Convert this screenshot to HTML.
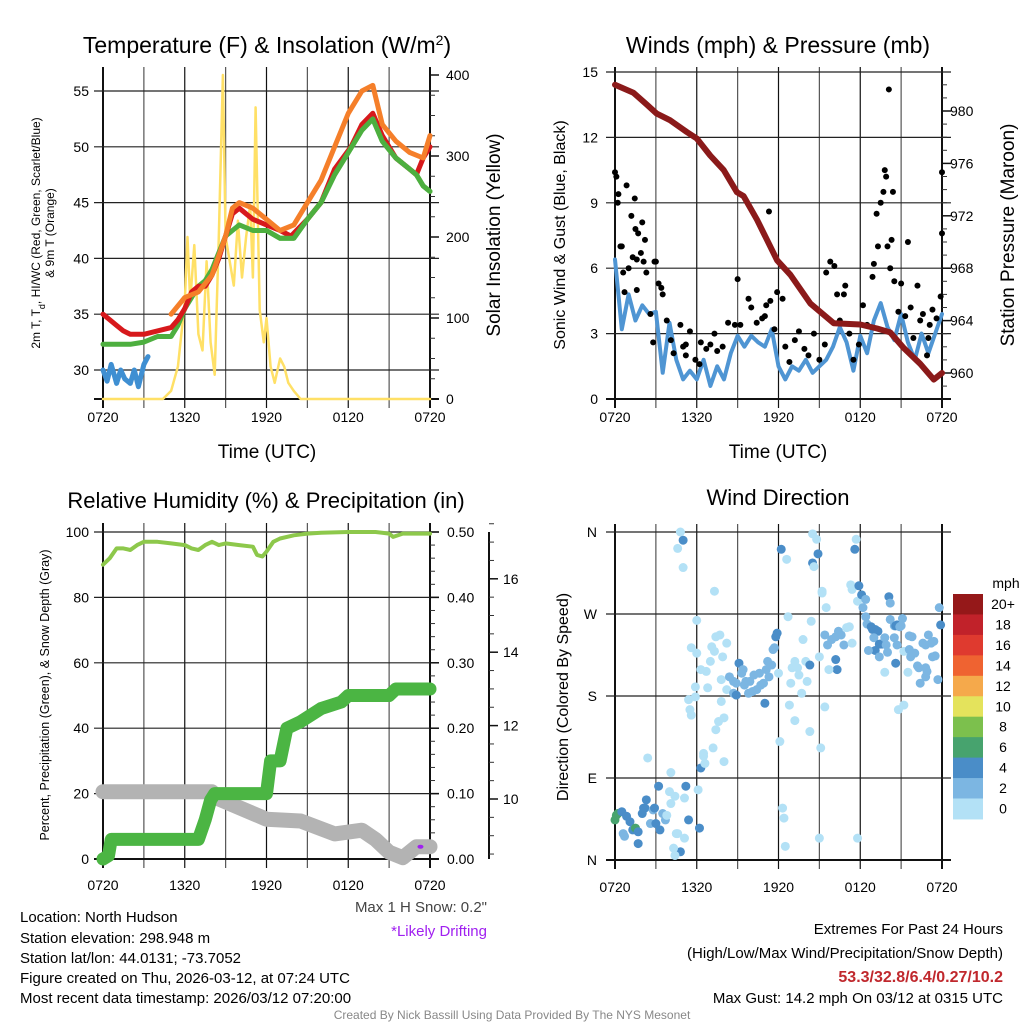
<!DOCTYPE html>
<html><head><meta charset="utf-8">
<style>
html,body{margin:0;padding:0;background:#fff;}
svg{display:block;font-family:"Liberation Sans",Arial,sans-serif;}
</style></head>
<body>
<svg id="chart" width="1024" height="1024" viewBox="0 0 1024 1024" xmlns="http://www.w3.org/2000/svg">
<rect x="0" y="0" width="1024" height="1024" fill="#fff"/>
<text x="267" y="53" font-size="23" text-anchor="middle">Temperature (F) &amp; Insolation (W/m<tspan baseline-shift="super" font-size="14">2</tspan>)</text>
<text x="778" y="53" font-size="23" text-anchor="middle">Winds (mph) &amp; Pressure (mb)</text>
<text x="266" y="508" font-size="22" text-anchor="middle">Relative Humidity (%) &amp; Precipitation (in)</text>
<text x="778" y="505" font-size="22" text-anchor="middle">Wind Direction</text>
<text x="267" y="458" font-size="19" text-anchor="middle">Time (UTC)</text>
<text x="778" y="458" font-size="19" text-anchor="middle">Time (UTC)</text>
<text transform="translate(40,233) rotate(-90)" font-size="12" text-anchor="middle"><tspan x="0" dy="0">2m T, T<tspan baseline-shift="sub" font-size="9">d</tspan>, HI/WC (Red, Green, Scarlet/Blue)</tspan><tspan x="0" dy="14">&amp; 9m T (Orange)</tspan></text>
<text transform="translate(500,235) rotate(-90)" font-size="19" text-anchor="middle">Solar Insolation (Yellow)</text>
<text transform="translate(565,235) rotate(-90)" font-size="16" text-anchor="middle">Sonic Wind &amp; Gust (Blue, Black)</text>
<text transform="translate(1014,235) rotate(-90)" font-size="19" text-anchor="middle">Station Pressure (Maroon)</text>
<text transform="translate(49,695) rotate(-90)" font-size="12.5" text-anchor="middle">Percent, Precipitation (Green), &amp; Snow Depth (Gray)</text>
<text transform="translate(568,697) rotate(-90)" font-size="16" text-anchor="middle">Direction (Colored By Speed)</text>
<text x="487" y="912" font-size="15" text-anchor="end" fill="#444">Max 1 H Snow: 0.2"</text>
<text x="487" y="936" font-size="15" text-anchor="end" fill="#a020f0">*Likely Drifting</text>
<g font-size="15">
<text x="20" y="922">Location: North Hudson</text>
<text x="20" y="943">Station elevation: 298.948 m</text>
<text x="20" y="963">Station lat/lon: 44.0131; -73.7052</text>
<text x="20" y="983">Figure created on Thu, 2026-03-12, at 07:24 UTC</text>
<text x="20" y="1003">Most recent data timestamp: 2026/03/12 07:20:00</text>
</g>
<g font-size="15" text-anchor="end">
<text x="1003" y="934">Extremes For Past 24 Hours</text>
<text x="1003" y="958">(High/Low/Max Wind/Precipitation/Snow Depth)</text>
<text x="1003" y="982" font-weight="bold" fill="#c0282d" font-size="16">53.3/32.8/6.4/0.27/10.2</text>
<text x="1003" y="1003">Max Gust: 14.2 mph On 03/12 at 0315 UTC</text>
</g>
<text x="512" y="1019" font-size="12" text-anchor="middle" fill="#888">Created By Nick Bassill Using Data Provided By The NYS Mesonet</text>
</svg>
<script>
// ---------- data ----------
const timeTickLabels = ["0720","1320","1920","0120","0720"];
const redHours = [0,0.5,1,1.5,2,3,4,5,5.5,6,6.5,7,7.5,8,8.5,9,9.5,10,10.5,11,12,13,13.8,15,16,17,18.2,19,19.8,20.5,21.5,22.5,23,23.5,24];
const redTemps = [35,34.5,34,33.5,33.2,33.2,33.5,33.8,34.5,35.5,37,37.5,37.5,38.5,40,42,44,44.5,44,43.5,43,42.5,42,43.5,45,48,50,52,53,51,49,48,47.5,49,50];
const greenHours = [0,2,3,4,5,5.5,6,6.5,7,7.5,8,8.5,9,9.5,10,11,12,13,14,15,16,17,18,19,19.8,20.5,21.5,22.5,23,23.5,24];
const greenTemps = [32.3,32.3,32.5,33,33,34,35.5,36.5,37.5,38,39,40.5,42,42.5,43,42.5,42.5,41.8,41.8,43.5,45,47.5,49.5,51.5,52.5,50.5,49,48,47.5,46.5,46];
const orangeHours = [5,6,7,8,9,9.5,10,11,12,13,14,15,16,17,18,19,19.8,20.5,21.5,22.5,23.5,24];
const orangeTemps = [35,36.5,37,38.5,42,44.5,45,44.5,43.5,42.5,43,45,47,50,53,55,55.5,52,50.5,49.5,49,51];
const blueHours = [0,0.3,0.6,1,1.3,1.6,2,2.3,2.6,3,3.3];
const blueTemps = [30,29,30.5,28.8,30,29.2,28.8,30,28.5,30.5,31.2];
const solarHours = [0,4.4,5,5.5,6,6.2,6.4,6.7,7,7.3,7.6,7.9,8.2,8.5,8.8,9,9.3,9.6,9.9,10.2,10.5,10.8,11,11.2,11.5,11.8,12,12.3,12.6,13,13.3,13.6,14,14.5,24];
const solarValues = [0,0,10,40,120,200,120,190,80,60,170,70,30,200,400,200,170,140,220,150,200,240,150,360,110,70,100,40,20,50,40,20,10,0,0];

const windStep = 0.5;
const windValues = [6.4,3.2,4.8,3.6,4.3,3.9,4.0,1.2,3.5,1.8,0.9,1.3,0.9,1.8,0.6,1.5,0.9,2.1,2.9,2.4,2.9,2.6,2.4,3.2,1.5,0.9,1.5,1.3,1.8,1.2,1.5,1.8,2.4,3.3,2.6,1.3,2.9,2.1,3.6,4.4,3.3,2.7,3.9,2.6,1.8,3.0,2.1,3.0,3.9];
const pressureHours = [0,1.35,2.33,3.06,4.04,5.27,6.0,6.99,7.97,8.95,9.44,10.42,11.9,12.87,14.34,16.05,18.0,19.24,20.2,21.2,22.4,23.4,24];
const pressureValues = [982.0,981.4,980.5,979.8,979.3,978.4,977.9,976.6,975.5,973.8,973.5,971.7,968.6,967.5,965.3,963.8,963.7,963.4,963.1,961.9,960.7,959.5,960.0];
const gustHours = [0,0.1,0.25,0.2,0.85,1.45,1.2,2.0,1.5,1.7,2.2,0.5,0.4,1.3,1.6,2.1,1.9,2.9,3.0,2.3,1.0,0.6,3.2,3.4,3.5,0.7,1.6,2.6,3.8,2.8,4.1,4.3,4.8,5.0,5.2,5.5,5.2,5.9,6.2,6.3,6.7,7.0,7.3,7.5,7.9,8.3,8.8,9.0,9.2,9.8,10.0,10.4,10.8,11.0,11.1,11.4,11.7,11.3,11.9,12.3,12.5,12.8,13.2,13.5,13.9,14.2,14.6,15.0,15.4,15.5,15.8,16.1,16.3,16.5,16.8,16.9,17.2,17.5,17.9,18.2,18.5,18.9,19.0,19.2,19.3,19.5,19.7,19.8,19.9,20.0,20.3,20.4,20.2,20.5,20.8,20.1,21.0,21.3,21.5,21.7,21.9,22.2,22.4,22.6,22.9,23.1,23.3,23.6,23.9,24.0,24.0,23.0];
const gustValues = [10.4,10.2,9.4,9.0,9.8,9.2,8.4,8.1,7.8,7.6,7.3,7.0,7.0,6.5,6.4,6.3,6.7,6.3,6.3,5.8,6.0,5.8,5.3,5.1,4.8,4.9,5.0,3.9,3.6,2.6,2.7,2.1,3.4,2.4,2.5,3.1,2.0,1.8,1.6,2.6,2.3,2.5,3.0,2.2,2.4,3.5,3.4,5.5,3.4,4.6,4.2,3.5,3.7,3.8,4.3,4.5,3.2,8.6,4.9,4.6,2.4,1.7,2.7,3.1,2.3,2.0,3.0,1.8,2.5,5.8,6.3,6.1,4.8,3.6,4.8,5.2,3.0,1.8,2.5,4.3,3.4,5.6,6.2,8.5,7.0,9.0,9.5,10.5,10.2,7.0,7.3,9.5,6.0,5.4,4.0,14.2,5.3,3.8,7.2,4.2,2.8,5.2,3.6,3.9,2.0,3.4,4.1,3.7,4.7,10.4,7.6,2.8];

const rhHours = [0,0.5,1,1.5,2,2.5,3,4,5,6,6.5,7,7.5,8,8.5,9,10,11,11.3,11.7,12,12.5,13,14,15,16,18,20,21,21.3,22,23,24];
const rhValues = [90,92,95,95,94.5,96,97,97,96.5,96,95,94.5,96,97,96,96.5,96,95.5,93,92.5,94,97,98,99,99.5,99.8,100,100,99.5,98.5,99.5,99.5,99.5];
const precipHours = [0,0.4,0.6,7,7.5,7.9,8.2,12,12.3,13,13.5,14.5,16,17.5,18,21,21.5,24];
const precipValues = [0,0.005,0.03,0.03,0.06,0.09,0.10,0.10,0.15,0.15,0.20,0.21,0.23,0.24,0.25,0.25,0.26,0.26];
const snowHours = [0,8,8.5,12,14.5,17,19,20,21,22,23,24];
const snowValues = [10.2,10.2,10.0,9.45,9.4,9.05,9.15,8.9,8.55,8.4,8.7,8.7];
const drift = [23.3, 8.7];

const dirHours = [0,0.1,0.2,0.5,0.85,1.1,0.6,0.7,1.3,1.5,1.7,1.7,2.1,2.2,2.0,2.3,2.6,2.8,2.9,3.0,3.3,3.5,3.7,3.8,3.2,4.0,4.1,4.4,4.5,4.6,4.8,4.3,4.4,5.1,5.2,5.1,5.4,6.1,6.2,2.4,4.1,6.3,6.5,6.6,6.5,7.2,7.4,7.6,8.0,8.0,7.8,5.5,5.6,5.4,5.9,5.9,6.0,5.6,6.3,6.7,6.8,7.0,7.1,7.3,7.4,7.7,7.9,8.2,7.8,8.2,8.4,8.7,8.9,8.7,8.9,9.1,9.3,9.4,9.5,9.6,9.9,9.8,10.1,10.4,10.2,10.6,10.7,10.9,11.0,11.1,11.2,11.3,11.5,11.6,11.7,11.8,11.9,12.0,12.1,12.3,12.4,12.5,12.8,12.9,13.0,13.2,13.2,13.4,13.5,13.7,13.8,14.0,14.1,14.3,14.3,14.4,15.0,15.1,15.0,15.5,15.2,15.4,15.6,15.9,16.2,16.2,16.3,15.7,16.4,16.6,16.8,17.0,17.2,17.4,15.4,4.8,5.0,4.6,5.0,7.3,6.0,12.2,12.6,12.7,14.5,14.8,14.9,14.5,14.6,15.2,17.7,17.6,17.3,17.4,17.8,17.9,18.1,18.4,18.2,18.4,18.5,18.8,18.9,19.1,19.3,19.0,19.4,19.5,19.6,19.8,19.9,20.0,19.1,18.6,19.4,19.8,20.1,20.2,20.2,20.5,20.6,20.7,20.9,21.1,21.0,20.7,20.6,20.5,21.2,21.5,21.6,21.8,21.6,21.7,22.0,22.2,22.3,22.4,22.6,22.8,22.8,22.9,22.8,23.0,23.2,23.4,23.3,23.5,23.7,23.8,23.9,20.8,21.2,17.8];
const dirDegrees = [44,49,51,53,48,42,29,26,33,35,31,18,57,57,51,66,40,55,57,40,33,51,44,49,81,75,62,70,29,29,9,13,5,24,81,68,44,77,35,112,96,101,114,106,117,123,143,152,156,108,174,165,159,176,179,190,227,233,209,207,189,218,234,229,245,247,223,238,198,187,201,196,194,183,181,216,205,209,192,196,196,183,185,187,203,205,192,194,172,209,218,201,214,231,233,245,249,205,130,57,46,15,170,194,211,218,153,211,203,183,242,218,196,214,141,262,223,123,24,277,293,247,236,242,245,220,209,209,251,247,236,255,256,238,168,360,351,342,321,295,263,341,330,267,358,352,336,326,322,295,352,341,302,297,284,301,291,286,277,267,259,256,253,253,251,244,237,237,237,244,236,228,230,230,223,206,289,282,264,257,257,258,256,265,257,236,216,244,229,206,246,245,231,223,227,213,211,194,238,236,211,207,201,247,238,240,223,224,198,277,258,165,170,24];
const dirSpeeds = [7,7,7,5,5,5,3,3,5,7,5,5,5,5,5,5,3,3,5,5,5,3,3,1,5,1,1,1,1,1,5,1,1,1,5,1,5,1,5,1,1,5,1,1,1,1,1,1,1,1,1,1,1,1,1,1,1,1,1,1,1,1,1,1,1,1,1,1,1,1,3,3,3,3,5,5,3,3,3,3,3,3,3,3,3,3,3,3,5,3,3,3,3,3,3,5,5,1,1,1,1,1,1,1,1,1,1,1,1,1,1,1,1,5,1,1,1,1,1,1,1,3,3,3,3,5,5,1,3,3,3,1,1,1,1,1,5,1,1,1,1,5,1,1,1,1,5,5,1,1,1,5,1,1,1,5,5,3,3,3,3,5,5,5,5,3,5,5,5,3,3,3,5,3,3,1,5,3,3,3,5,5,3,3,3,3,5,3,1,1,3,3,3,3,3,3,3,3,3,3,3,3,3,3,3,3,3,3,3,3,5,1,1,1];
const speedBinLabels = ["0","2","4","6","8","10","12","14","16","18","20+"];
const speedBinColors = ["#b3e1f6","#7cb6e2","#4a8dc8","#47a36e","#7cc04d","#e4e35c","#f5a94b","#ef6331","#df3a2f","#c1222a","#951819"];

// ---------- axes ----------
const NS = "http://www.w3.org/2000/svg";
const svg = document.getElementById("chart");
function mk(tag, attrs, parent){ const e=document.createElementNS(NS,tag); for(const k in attrs) e.setAttribute(k,attrs[k]); (parent||svg).appendChild(e); return e; }
const xL = h => 103 + h*(327/24);
const xR = h => 615 + h*(327/24);
const yT = t => 370 - (t-30)*11.16;
const ySol = w => 399 - w*0.81;
const yW = v => 399 - v*21.8;
const yP = p => 111 + (980-p)*13.1;
const yRH = r => 859 - r*3.27;
const yPr = i => 859 - i*654;
const ySn = s => 799 - (s-10)*36.7;
const yDir = d => 860 - d*(328/360);

function grid(xf, top, bottom, left, right, yvals, yf, lblX, lbls, lblY){
  for(let h=0; h<=24; h+=3){
    const x = xf(h);
    const l = mk("line",{x1:x,y1:top,x2:x,y2:bottom+9,stroke:(h%6===0)?"#111":"#555","stroke-width":(h===0||h===24)?2:1.2});
    
    
  }
  yvals.forEach((v,i)=>{
    const y = yf(v);
    const l = mk("line",{x1:left-9,y1:y,x2:right+9,y2:y,stroke:"#222","stroke-width":1.2});
    
    
    const t = mk("text",{x:lblX,y:y+5,"font-size":14,"text-anchor":"end"});
    t.textContent = lbls[i];
    
    
  });
  timeTickLabels.forEach((s,i)=>{
    const t = mk("text",{x:xf(i*6),y:lblY,"font-size":14,"text-anchor":"middle"});
    t.textContent = s;
    
    
  });
  const b = mk("line",{x1:left-9,y1:bottom,x2:right+9,y2:bottom,stroke:"#111","stroke-width":2});
  
  
}
function rightAxis(x, vals, yf, lbls, minor, lx, name){
  vals.forEach((v,i)=>{
    const y=yf(v);
    const l = mk("line",{x1:x,y1:y,x2:x+9,y2:y,stroke:"#111","stroke-width":1.5});
    
    
    const t = mk("text",{x:lx,y:y+5,"font-size":14});
    t.textContent = lbls[i];
    
    
  });
  minor.forEach(v=>{
    const y=yf(v);
    const l = mk("line",{x1:x,y1:y,x2:x+5,y2:y,stroke:"#333","stroke-width":1});
    
    
  });
}
function poly(hs, vs, xf, yf, color, w, name){
  const pts = hs.map((h,i)=>xf(h).toFixed(1)+","+yf(vs[i]).toFixed(1)).join(" ");
  const p = mk("polyline",{points:pts,fill:"none",stroke:color,"stroke-width":w,"stroke-linejoin":"round","stroke-linecap":"round"});
  
  
}
function rng(a,b,s){const r=[];for(let v=a;v<=b+1e-9;v+=s)r.push(+v.toFixed(4));return r;}

// Panel 1
grid(xL,67,399,103,430,[30,35,40,45,50,55],yT,89,["30","35","40","45","50","55"],422);
rightAxis(430,[0,100,200,300,400],ySol,["0","100","200","300","400"],rng(25,400,25).filter(v=>v%100),446,"solar-axis");
poly(solarHours,solarValues,xL,ySol,"#ffe066",2.5,"solar-insolation-line");
poly(greenHours,greenTemps,xL,yT,"#4daf3f",5,"dewpoint-line");
poly(redHours,redTemps,xL,yT,"#d7191c",5,"temperature-2m-line");
poly(orangeHours,orangeTemps,xL,yT,"#f57f2a",5,"temperature-9m-line");
poly(greenHours.slice(16),greenTemps.slice(16),xL,yT,"#4daf3f",5,"dewpoint-line-late");
poly(blueHours,blueTemps,xL,yT,"#3f8fd2",5,"windchill-line");

// Panel 2
grid(xR,67,399,615,942,[0,3,6,9,12,15],yW,598,["0","3","6","9","12","15"],422);
rightAxis(942,[960,964,968,972,976,980],yP,["960","964","968","972","976","980"],rng(959,982,1).filter(v=>v%4),950,"pressure-axis");
poly(windValues.map((v,i)=>i*windStep),windValues,xR,yW,"#4f95d3",4,"sonic-wind-line");
gustHours.forEach((h,i)=>{
  const c = mk("circle",{cx:xR(h),cy:yW(gustValues[i]),r:3,fill:"#000"});
  
  
});
poly(pressureHours,pressureValues,xR,yP,"#8b1a1a",6,"pressure-line");

// Panel 3
grid(xL,523,859,103,430,[0,20,40,60,80,100],yRH,89,["0","20","40","60","80","100"],890);
rightAxis(430,[0,0.1,0.2,0.3,0.4,0.5],yPr,["0.00","0.10","0.20","0.30","0.40","0.50"],rng(0.02,0.48,0.02).filter(v=>Math.round(v*100)%10),447,"precip-axis");
const sa = mk("line",{x1:489,y1:532,x2:489,y2:859,stroke:"#111","stroke-width":2});


rightAxis(489,[10,12,14,16],ySn,["10","12","14","16"],rng(8.5,17.5,0.5).filter(v=>v%2),503,"snow-axis");
poly(snowHours,snowValues,xL,ySn,"#b3b3b3",15,"snow-depth-line");
poly(precipHours,precipValues,xL,yPr,"#4bb543",13,"precipitation-line");
poly(rhHours,rhValues,xL,yRH,"#8dc84b",4,"relative-humidity-line");
const dd = mk("ellipse",{cx:xL(drift[0]),cy:ySn(drift[1]),rx:3,ry:2,fill:"#a020f0"});



// Panel 4
grid(xR,524,860,615,942,[0,90,180,270,360],yDir,597,["N","E","S","W","N"],892);
const nD = Math.min(dirHours.length,dirDegrees.length,dirSpeeds.length);
for(let i=0;i<nD;i++){
  const bin = Math.min(Math.floor(dirSpeeds[i]/2),10);
  const c = mk("circle",{cx:xR(dirHours[i]),cy:yDir(dirDegrees[i]),r:4.5,fill:speedBinColors[bin]});
  
  
}
// colorbar
const cbTop = 594, cbH = 20.45;
const mph = mk("text",{x:1006,y:588,"font-size":14,"text-anchor":"middle"});
mph.textContent = "mph";


speedBinColors.forEach((col,i)=>{
  const k = speedBinColors.length-1-i;
  const r = mk("rect",{x:953,y:cbTop+i*cbH,width:30,height:cbH+0.5,fill:speedBinColors[k]});
  
  
  const t = mk("text",{x:1003,y:cbTop+i*cbH+15,"font-size":14,"text-anchor":"middle"});
  t.textContent = speedBinLabels[k];
  
  
});
</script>
</body></html>
